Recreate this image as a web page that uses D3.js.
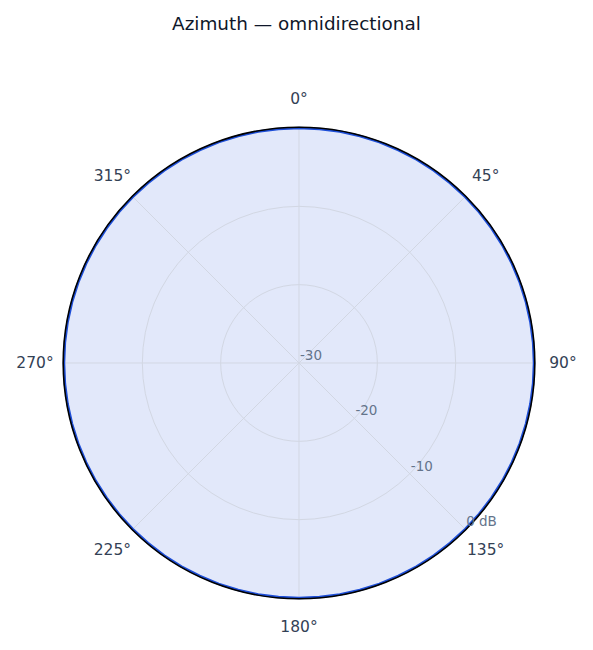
<!DOCTYPE html>
<html>
<head>
<meta charset="utf-8">
<script src="https://cdn.jsdelivr.net/npm/d3@7"></script>
<style>
	body { margin: 0; background: #fff; }
	svg { display: block; font-family: "DejaVu Sans", sans-serif; }
</style>
</head>
<body>
<svg width="593" height="650"></svg>
<script>
// Azimuth pattern, omnidirectional antenna (gain in dB vs bearing)

var azimuth_deg = [
	0, 5, 10, 15, 20, 25, 30, 35, 40, 45, 50, 55,
	60, 65, 70, 75, 80, 85, 90, 95, 100, 105, 110, 115,
	120, 125, 130, 135, 140, 145, 150, 155, 160, 165, 170, 175,
	180, 185, 190, 195, 200, 205, 210, 215, 220, 225, 230, 235,
	240, 245, 250, 255, 260, 265, 270, 275, 280, 285, 290, 295,
	300, 305, 310, 315, 320, 325, 330, 335, 340, 345, 350, 355
];
var gain_db = [
	0, 0, 0, 0, 0, 0, 0, 0, 0, 0, 0, 0,
	0, 0, 0, 0, 0, 0, 0, 0, 0, 0, 0, 0,
	0, 0, 0, 0, 0, 0, 0, 0, 0, 0, 0, 0,
	0, 0, 0, 0, 0, 0, 0, 0, 0, 0, 0, 0,
	0, 0, 0, 0, 0, 0, 0, 0, 0, 0, 0, 0,
	0, 0, 0, 0, 0, 0, 0, 0, 0, 0, 0, 0
];
var radial_ticks = [-30, -20, -10, 0];
var radial_labels = ["-30", "-20", "-10", "0 dB"];
var angle_ticks = [0, 45, 90, 135, 180, 225, 270, 315];
var title_text = "Azimuth \u2014 omnidirectional";

function draw(){
	var svg = d3.select("svg");
	var width = parseInt(svg.attr("width"));
	var cx = 299, cy = 363, outer = 235;

	var r = d3.scaleLinear().domain([-30, 0]).range([0, outer]);
	var rad = d3.scaleLinear().domain([0, 360]).range([0, 2 * Math.PI]);

	svg.append("text")
		.attr("x", width / 2)
		.attr("y", 23)
		.attr("text-anchor", "middle")
		.attr("dominant-baseline", "central")
		.attr("font-size", 18.4)
		.attr("fill", "#0f172a")
		.text(title_text);

	var g = svg.append("g").attr("transform", "translate(" + cx + "," + cy + ")");

	// pattern fill
	var pts = azimuth_deg.map((a, i) => [rad(a), r(gain_db[i])]);
	var area = d3.areaRadial()
		.angle(d => d[0])
		.innerRadius(0)
		.outerRadius(d => d[1])
		.curve(d3.curveLinearClosed);
	var line = d3.lineRadial()
		.angle(d => d[0])
		.radius(d => d[1])
		.curve(d3.curveLinearClosed);

	g.append("path")
		.attr("d", area(pts))
		.attr("fill", "#e2e8fa");

	// rings
	g.append("g").selectAll("circle")
		.data(radial_ticks.filter(t => t > -30 && t < 0))
		.enter().append("circle")
		.attr("r", t => r(t))
		.attr("fill", "none")
		.attr("stroke", "#d2d7e3")
		.attr("stroke-width", 1);

	// spokes
	g.append("g").selectAll("line")
		.data(angle_ticks)
		.enter().append("line")
		.attr("x1", 0).attr("y1", 0)
		.attr("x2", a => r(0) * Math.sin(rad(a)))
		.attr("y2", a => -r(0) * Math.cos(rad(a)))
		.attr("stroke", "#d2d7e3")
		.attr("stroke-width", 1);

	g.append("path")
		.attr("d", line(pts))
		.attr("fill", "none")
		.attr("stroke", "#1d4ed8")
		.attr("stroke-width", 2.5);

	// outer frame
	g.append("circle")
		.attr("r", r(0) + 0.8)
		.attr("fill", "none")
		.attr("stroke", "#000")
		.attr("stroke-width", 1.6);

	// radial labels along the 135 degree spoke
	var la = rad(135);
	g.append("g").selectAll("text")
		.data(radial_ticks)
		.enter().append("text")
		.attr("x", t => r(t) * Math.sin(la) + 1)
		.attr("y", t => -r(t) * Math.cos(la) - 3)
		.attr("font-size", 13.5)
		.attr("fill", "#64748b")
		.text((t, i) => radial_labels[i]);

	// angle labels
	g.append("g").selectAll("text")
		.data(angle_ticks)
		.enter().append("text")
		.attr("x", a => 264 * Math.sin(rad(a)))
		.attr("y", a => -264 * Math.cos(rad(a)))
		.attr("text-anchor", "middle")
		.attr("dominant-baseline", "central")
		.attr("font-size", 15.5)
		.attr("fill", "#334155")
		.text(a => a + "\u00b0");
}

draw();
</script>
</body>
</html>
